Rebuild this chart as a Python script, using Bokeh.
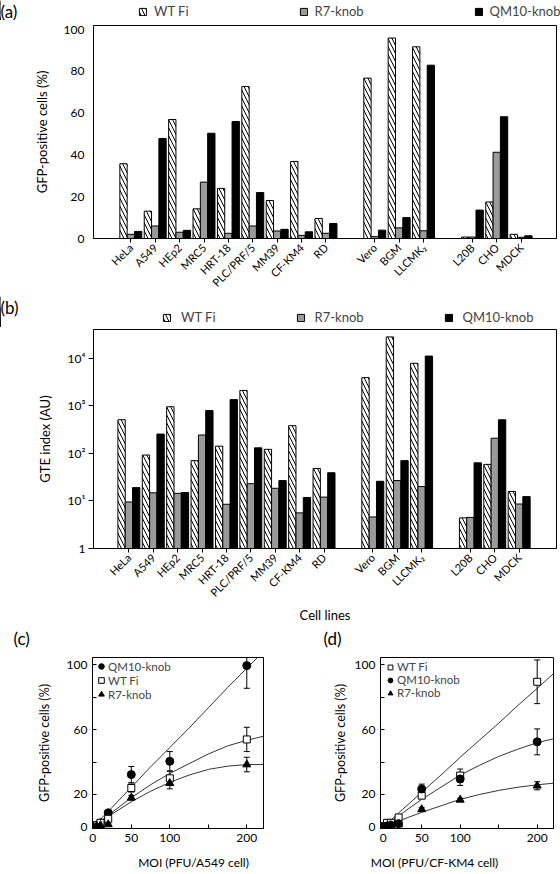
from math import pi
from bokeh.plotting import figure
from bokeh.models import (ColumnDataSource, FixedTicker, Legend, LegendItem,
                          Whisker, TeeHead, Range1d)
from bokeh.layouts import column, row
from bokeh.embed import file_html
from bokeh.resources import INLINE
from bokeh.transform import dodge
from bokeh.core.properties import value

FONT = "Lato"

# ---------------- data ----------------
cell_lines = ["HeLa", "A549", "HEp2", "MRC5", "HRT-18", "PLC/PRF/5", "MM39", "CF-KM4", "RD",
              "Vero", "BGM", "LLCMK\u2082",
              "L20B", "CHO", "MDCK"]
group_sizes = [9, 3, 3]
series_names = ["WT Fi", "R7-knob", "QM10-knob"]

# (a) GFP-positive cells (%)
gfp_wt = [35.8, 13.1, 57.0, 14.2, 24.0, 72.8, 18.2, 36.9, 9.6, 76.8, 96.0, 91.8, 0.7, 17.5, 2.0]
gfp_r7 = [2.0, 6.0, 3.0, 27.0, 2.5, 6.0, 3.6, 1.5, 2.5, 0.9, 5.1, 3.7, 0.7, 41.3, 0.6]
gfp_qm10 = [3.4, 47.9, 3.9, 50.4, 56.0, 22.0, 4.4, 3.2, 7.2, 4.0, 10.0, 83.0, 13.6, 58.3, 1.3]

# (b) GTE index (AU)
gte_wt = [507, 92, 950, 70, 141, 2090, 121, 380, 48, 3880, 27800, 7760, 4.4, 58.5, 15.8]
gte_r7 = [9.5, 14.8, 14.4, 242, 8.5, 23, 18.4, 5.6, 12, 4.6, 26.7, 20, 4.5, 207, 8.6]
gte_qm10 = [19, 253, 15, 790, 1340, 130, 26.7, 11.8, 39, 25.8, 70, 11000, 63, 505, 12.3]

gfp_ticks = [0, 20, 40, 60, 80, 100]
gte_ticks = [1, 10, 100, 1000, 10000]
gte_tick_labels = ["1", "10\u00b9", "10\u00b2", "10\u00b3", "10\u2074"]

# (c) A549 dose response
moi = [1, 5, 10, 20, 50, 100, 200]
c_qm10 = [0.5, 1.0, 2.5, 8.7, 32.3, 40.5, 99.6]
c_qm10_err = [0.3, 0.3, 0.5, 1.0, 5.0, 6.0, 14.0]
c_wt = [0.5, 1.0, 2.5, 5.0, 24.0, 30.0, 54.0]
c_wt_err = [0.3, 0.3, 0.5, 1.0, 2.5, 4.5, 7.5]
c_r7 = [0.0, 0.5, 1.0, 1.5, 18.0, 27.0, 38.5]
c_r7_err = [0.2, 0.2, 0.3, 0.5, 1.5, 3.5, 4.5]

fit_x = [0, 25, 50, 75, 100, 125, 150, 175, 200, 222]
c_fit_qm10 = [0, 12, 24.5, 37, 49, 61, 73.5, 86, 98, 108.5]
c_fit_wt = [0, 9, 18, 26, 33, 39, 45, 50, 53.5, 56]
c_fit_r7 = [0, 8, 15.5, 22, 27.5, 32, 35.5, 37.5, 38.5, 38.5]

# (d) CF-KM4 dose response
d_wt = [0.5, 2.5, 2.5, 5.8, 19.3, 31.7, 89.6]
d_wt_err = [0.5, 0.5, 0.5, 1.0, 1.5, 4.0, 13.5]
d_qm10 = [0.0, 0.5, 1.0, 2.0, 23.4, 29.6, 52.5]
d_qm10_err = [0.3, 0.3, 0.5, 0.5, 3.0, 4.0, 8.0]
d_r7 = [0.0, 0.3, 1.0, 1.5, 10.8, 16.7, 25.4]
d_r7_err = [0.2, 0.2, 0.3, 0.5, 1.0, 1.0, 2.5]

d_fit_wt = [0, 10.7, 21.4, 32, 43, 53.5, 64, 75, 85.5, 95]
d_fit_qm10 = [0, 8.5, 17, 24.5, 32, 38, 43.5, 48, 52, 54.5]
d_fit_r7 = [0, 4.5, 9, 13, 17, 20, 22.5, 24.5, 26, 27]

moi_ticks = [0, 50, 100, 150, 200]
moi_labelled = [0, 50, 100, 200]
pct_ticks = [0, 20, 40, 60, 80, 100]
pct_labelled = [0, 20, 60, 100]

# slot positions (gap of one slot between groups)
positions = []
slot = 0
for n in group_sizes:
    for _ in range(n):
        positions.append(slot)
        slot += 1
    slot += 1

BAR_W = 0.3
GRAY = "#9a9a9a"
PAGE_W = 560

STYLE_WT = dict(fill_color="white", line_color="black", line_width=1,
                hatch_pattern="\\", hatch_scale=8, hatch_color="black", hatch_weight=1)
STYLE_R7 = dict(fill_color=GRAY, line_color="black", line_width=1)
STYLE_QM = dict(fill_color="black", line_color="black", line_width=1)


def style_common(p):
    p.xgrid.visible = False
    p.ygrid.visible = False
    p.outline_line_color = "black"
    p.outline_line_width = 1
    p.background_fill_color = "white"
    p.border_fill_color = "white"
    for ax in (p.xaxis, p.yaxis):
        ax.axis_line_color = "black"
        ax.major_tick_line_color = "black"
        ax.minor_tick_line_color = None
        ax.major_label_text_font = FONT
        ax.major_label_text_color = "black"
        ax.axis_label_text_font = FONT
        ax.axis_label_text_font_style = "normal"
        ax.axis_label_text_color = "black"


def strip_figure(width, height):
    """A figure without axes whose frame is the whole canvas (1 unit = 1 pixel)."""
    p = figure(width=width, height=height, x_range=Range1d(0, width), y_range=Range1d(0, height),
               x_axis_location=None, y_axis_location=None, output_backend="svg",
               toolbar_location=None, min_border=0, min_border_left=0, min_border_right=0,
               min_border_top=0, min_border_bottom=0, frame_align=False)
    p.grid.visible = False
    p.outline_line_color = None
    p.background_fill_color = "white"
    p.border_fill_color = "white"
    return p


def strip_text(p, x, y, text, size, align="left", baseline="middle"):
    p.text(x=[x], y=[y], text=[text], text_font=value(FONT), text_font_size=size,
           text_align=align, text_baseline=baseline, text_color="black")


def header_with_legend(height, tag, tag_y, leg_loc, spacing, standoff, values):
    h = strip_figure(PAGE_W, height)
    strip_text(h, 0, tag_y, tag, "17px")
    # legend proxies: one bar each, lying outside the visible x range
    proxies = [h.vbar(x=[-100], top=[v], width=1, **st)
               for v, st in zip(values, (STYLE_WT, STYLE_R7, STYLE_QM))]
    leg = Legend(items=[LegendItem(label=n, renderers=[r], index=0)
                        for n, r in zip(series_names, proxies)],
                 orientation="horizontal", location=leg_loc, spacing=spacing, padding=0, margin=0,
                 glyph_width=9, glyph_height=9, label_height=12, label_standoff=standoff,
                 label_text_font=FONT, label_text_font_size="13px",
                 border_line_color=None, background_fill_alpha=0)
    h.add_layout(leg)
    return h


def bar_figure(height, border_top, border_bottom, wt, r7, qm10, y_type, y_range, x_range):
    p = figure(width=PAGE_W, height=height, x_range=x_range, y_range=y_range,
               y_axis_type=y_type, output_backend="svg", toolbar_location=None,
               min_border_left=93, min_border_right=4, min_border_top=border_top,
               min_border_bottom=border_bottom, frame_align=False)
    style_common(p)
    bottom = 1 if y_type == "log" else 0
    src = ColumnDataSource(dict(pos=positions, wt=wt, r7=r7, qm10=qm10))
    p.vbar(x=dodge("pos", -BAR_W), top="wt", bottom=bottom, width=BAR_W, source=src, **STYLE_WT)
    p.vbar(x="pos", top="r7", bottom=bottom, width=BAR_W, source=src, **STYLE_R7)
    p.vbar(x=dodge("pos", BAR_W), top="qm10", bottom=bottom, width=BAR_W, source=src, **STYLE_QM)
    p.xaxis.ticker = FixedTicker(ticks=positions)
    p.xaxis.major_label_overrides = {pos: name for pos, name in zip(positions, cell_lines)}
    p.xaxis.major_label_orientation = pi / 4
    p.xaxis.major_tick_out = 4
    p.xaxis.major_tick_in = 0
    p.xaxis.major_label_text_font_size = "11px"
    p.xaxis.major_label_standoff = 3
    p.yaxis.major_label_text_font_size = "12px"
    p.yaxis.axis_label_text_font_size = "13px"
    return p


# ---------------- (a) ----------------
head_a = header_with_legend(20, "(a)", 9.5, (138, 1), 110, 7, [gfp_wt[0], gfp_r7[0], gfp_qm10[0]])
pa = bar_figure(276, 5, 57, gfp_wt, gfp_r7, gfp_qm10, "linear", Range1d(0, 102),
                Range1d(-1.53, 17.45))
pa.yaxis.ticker = FixedTicker(ticks=gfp_ticks)
pa.yaxis.major_tick_out = 0
pa.yaxis.major_tick_in = 0
pa.yaxis.major_label_standoff = 9
pa.yaxis.axis_label = "GFP-positive cells (%)"
pa.yaxis.axis_label_standoff = 11

# ---------------- (b) ----------------
head_b = header_with_legend(31, "(b)", 20, (162, 2), 80, 10, [gte_wt[0], gte_r7[0], gte_qm10[0]])
pb = bar_figure(299, 2, 68, gte_wt, gte_r7, gte_qm10, "log", Range1d(1, 39800),
                Range1d(-1.45, 17.53))
pb.yaxis.ticker = FixedTicker(ticks=gte_ticks)
pb.yaxis.major_label_overrides = {t: s for t, s in zip(gte_ticks, gte_tick_labels)}
pb.yaxis.major_tick_out = 5
pb.yaxis.major_tick_in = 0
pb.yaxis.major_label_standoff = 3
pb.yaxis.axis_label = "GTE index (AU)"
pb.yaxis.axis_label_standoff = 12
pb.xaxis.axis_label = "Cell lines"
pb.xaxis.axis_label_text_font_size = "13px"
pb.xaxis.axis_label_standoff = 1


# ---------------- (c), (d) ----------------
def dose_figure(width, border_left, border_right, x_range, title_standoff):
    p = figure(width=width, height=202, x_range=x_range, y_range=Range1d(-1, 104.6),
               output_backend="svg", toolbar_location=None,
               min_border_left=border_left, min_border_right=border_right,
               min_border_top=7, min_border_bottom=24, frame_align=False)
    style_common(p)
    p.xaxis.ticker = FixedTicker(ticks=moi_ticks)
    p.xaxis.major_label_overrides = {t: ("" if t not in moi_labelled else str(t)) for t in moi_ticks}
    p.yaxis.ticker = FixedTicker(ticks=pct_ticks)
    p.yaxis.major_label_overrides = {t: ("" if t not in pct_labelled else str(t)) for t in pct_ticks}
    for ax in (p.xaxis, p.yaxis):
        ax.major_tick_in = 4
        ax.major_tick_out = 0
        ax.major_label_text_font_size = "12px"
        ax.major_label_standoff = 5
    p.yaxis.axis_label = "GFP-positive cells (%)"
    p.yaxis.axis_label_text_font_size = "12.5px"
    p.yaxis.axis_label_standoff = title_standoff
    return p


def add_series(p, x, y, err, marker, size, fill):
    src = ColumnDataSource(dict(x=x, y=y, upper=[a + b for a, b in zip(y, err)],
                                lower=[a - b for a, b in zip(y, err)]))
    p.add_layout(Whisker(source=src, base="x", upper="upper", lower="lower",
                         line_color="black", line_width=1,
                         upper_head=TeeHead(size=6, line_color="black", line_width=1),
                         lower_head=TeeHead(size=6, line_color="black", line_width=1)))
    return p.scatter(x="x", y="y", source=src, marker=marker, size=size,
                     fill_color=fill, line_color="black", line_width=1)


def dose_legend(p, items, margin, row_h):
    leg = Legend(items=[LegendItem(label=l, renderers=[r]) for l, r in items],
                 location="top_left", spacing=0, padding=0, margin=margin,
                 glyph_width=14, glyph_height=row_h, label_height=row_h, label_standoff=0,
                 label_text_font=FONT, label_text_font_size="11.5px",
                 border_line_color=None, background_fill_alpha=0)
    p.add_layout(leg)


head_cd = strip_figure(PAGE_W, 24)
strip_text(head_cd, 13, 12, "(c)", "17px")
strip_text(head_cd, 323, 12, "(d)", "17px")

pc = dose_figure(280, 92, 17, Range1d(-0.4, 221.7), 12)
for fy in (c_fit_qm10, c_fit_wt, c_fit_r7):
    pc.line(fit_x, fy, line_color="black", line_width=0.8)
rc_q = add_series(pc, moi, c_qm10, c_qm10_err, "circle", 8, "black")
rc_w = add_series(pc, moi, c_wt, c_wt_err, "square", 7, "white")
rc_r = add_series(pc, moi, c_r7, c_r7_err, "triangle", 8, "black")
dose_legend(pc, [("QM10-knob", rc_q), ("WT Fi", rc_w), ("R7-knob", rc_r)], 2, 14)

pd = dose_figure(280, 100, 7, Range1d(-3.5, 221.2), 4)
for fy in (d_fit_wt, d_fit_qm10, d_fit_r7):
    pd.line(fit_x, fy, line_color="black", line_width=0.8)
rd_w = add_series(pd, moi, d_wt, d_wt_err, "square", 7, "white")
rd_q = add_series(pd, moi, d_qm10, d_qm10_err, "circle", 8, "black")
rd_r = add_series(pd, moi, d_r7, d_r7_err, "triangle", 8, "black")
dose_legend(pd, [("WT Fi", rd_w), ("QM10-knob", rd_q), ("R7-knob", rd_r)], 3, 12)

foot = strip_figure(PAGE_W, 22)
strip_text(foot, 193, 12.3, "MOI (PFU/A549 cell)", "12px", align="center")
strip_text(foot, 434, 12.3, "MOI (PFU/CF-KM4 cell)", "12px", align="center")

layout = column(head_a, pa, head_b, pb, head_cd, row(pc, pd), foot)
open("out.html", "w").write(file_html(layout, INLINE))
